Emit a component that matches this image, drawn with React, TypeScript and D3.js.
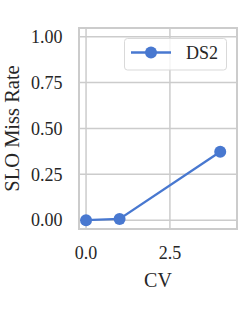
import React from "react";
import * as d3 from "d3";

const xValues = [0, 1, 4];
const yValues = [0.0, 0.007, 0.373];
const seriesName = "DS2";
const xTicks = [0, 2.5];
const yTicks = [0, 0.25, 0.5, 0.75, 1.0];
const xLabel = "CV";
const yLabel = "SLO Miss Rate";

const W = 249;
const H = 312;
const M = { left: 79, right: 12, top: 28, bottom: 83 };
const color = "#4878d0";
const grid = "#cccccc";
const font = "Liberation Serif, Times New Roman, serif";

export default function App() {
  const x = d3.scaleLinear().domain([-0.21, 4.5]).range([M.left, W - M.right]);
  const y = d3.scaleLinear().domain([-0.048, 1.047]).range([H - M.bottom, M.top]);
  const line = d3.line<number>().x((_, i) => x(xValues[i])).y((d) => y(d));
  const pw = W - M.left - M.right;
  const ph = H - M.top - M.bottom;
  return (
    <svg width={W} height={H} style={{ position: "absolute", left: 0, top: 0 }} fontFamily={font}>
      <rect x={0} y={0} width={W} height={H} fill="white" />
      {yTicks.map((t) => (
        <line key={"gy" + t} x1={M.left} x2={W - M.right} y1={y(t)} y2={y(t)} stroke={grid} strokeWidth={1.5} />
      ))}
      {xTicks.map((t) => (
        <line key={"gx" + t} x1={x(t)} x2={x(t)} y1={M.top} y2={H - M.bottom} stroke={grid} strokeWidth={1.5} />
      ))}
      <rect x={M.left} y={M.top} width={pw} height={ph} fill="none" stroke={grid} strokeWidth={2} />
      <path d={line(yValues) ?? ""} fill="none" stroke={color} strokeWidth={2.3} />
      {yValues.map((v, i) => (
        <circle key={i} cx={x(xValues[i])} cy={y(v)} r={6} fill={color} />
      ))}
      {yTicks.map((t) => (
        <text key={"ty" + t} x={M.left - 16.5} y={y(t)} dy="0.35em" textAnchor="end" fontSize={18} fill="#262626">
          {d3.format(".2f")(t)}
        </text>
      ))}
      {xTicks.map((t) => (
        <text key={"tx" + t} x={x(t)} y={H - M.bottom + 30} textAnchor="middle" fontSize={18} fill="#262626">
          {d3.format(".1f")(t)}
        </text>
      ))}
      <text x={M.left + pw / 2} y={H - M.bottom + 57.5} textAnchor="middle" fontSize={20} fill="#262626">
        {xLabel}
      </text>
      <text transform={`translate(${19},${M.top + ph / 2}) rotate(-90)`} textAnchor="middle" fontSize={20.5} fill="#262626">
        {yLabel}
      </text>
      <g transform="translate(124.5,38.5)">
        <rect x={0} y={0} width={102} height={31.5} rx={3} fill="white" fillOpacity={0.8} stroke="#d9d9d9" strokeWidth={1} />
        <line x1={6.5} x2={46.5} y1={14} y2={14} stroke={color} strokeWidth={2.3} />
        <circle cx={26.5} cy={14} r={6} fill={color} />
        <text x={61.5} y={14} dy="0.35em" fontSize={18} fill="#262626">{seriesName}</text>
      </g>
    </svg>
  );
}
